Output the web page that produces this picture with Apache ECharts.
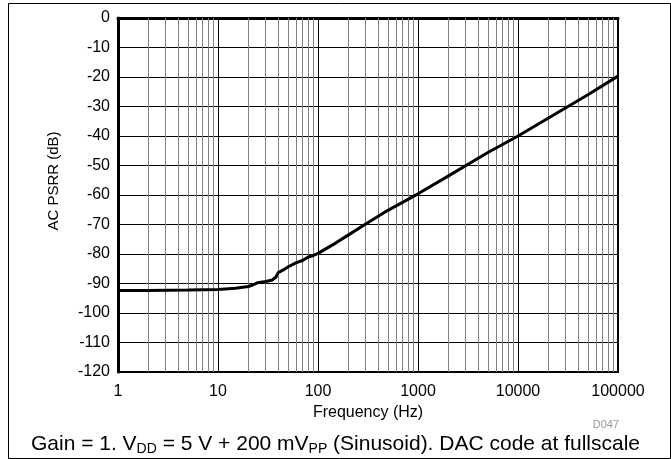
<!DOCTYPE html>
<html>
<head>
<meta charset="utf-8">
<script src="https://cdn.jsdelivr.net/npm/echarts@6/dist/echarts.min.js"></script>
<style>
  html, body { margin: 0; padding: 0; background: #fff; }
  #chart { width: 671px; height: 459px; }
</style>
</head>
<body>
<div id="chart"></div>
<script>
// frequency (Hz) and AC PSRR (dB)
const freq = [1, 2, 5, 10, 15, 20, 22, 25, 30, 35, 38, 40, 45, 50, 60, 70, 80, 90, 100,
  150, 200, 300, 500, 1000, 2000, 5000, 10000, 20000, 50000, 100000]
const psrr = [-92.4, -92.4, -92.2, -92.0, -91.6, -91.0, -90.6, -89.7, -89.3, -88.8, -87.8, -86.3, -85.4, -84.4, -83.0, -82.2, -81.0, -80.5, -79.8,
  -76.3, -73.6, -69.8, -65.2, -59.6, -53.6, -45.6, -40.0, -34.0, -26.0, -19.7]
const yMin = -120, yMax = 0, yStep = 10

// minor vertical gridlines 2..9 per decade
let minor = []
for (let d = 1; d < 100000; d *= 10) {
  for (let k = 2; k <= 9; k++) minor.push(d * k)
}

const font = "Arial, 'Liberation Sans', sans-serif"
const chart = echarts.init(document.getElementById("chart"))

chart.setOption({
  animation: false,
  grid: {
    left: 118, right: 53, top: 18, bottom: 87,
    show: true,
    borderColor: "#000",
    borderWidth: 2
  },
  xAxis: {
    type: "log",
    logBase: 10,
    min: 1,
    max: 100000,
    name: "Frequency (Hz)",
    nameLocation: "middle",
    nameGap: 29,
    nameTextStyle: { fontFamily: font, fontSize: 16, color: "#000" },
    axisLine: { show: true, lineStyle: { color: "#000", width: 3 } },
    axisTick: { show: false },
    axisLabel: {
      fontFamily: font, fontSize: 16, color: "#000", margin: 12,
      formatter: v => String(Math.round(v))
    },
    splitLine: { show: true, lineStyle: { color: "#000", width: 1 } }
  },
  yAxis: {
    type: "value",
    min: yMin,
    max: yMax,
    interval: yStep,
    name: "AC PSRR (dB)",
    nameLocation: "middle",
    nameGap: 57,
    nameTextStyle: { fontFamily: font, fontSize: 15, color: "#000", padding: [0, 0, 0, 28] },
    axisLine: { show: true, lineStyle: { color: "#000", width: 3 } },
    axisTick: { show: false },
    axisLabel: { fontFamily: font, fontSize: 16, color: "#000", margin: 8 },
    splitLine: { show: true, lineStyle: { color: "#000", width: 1 } }
  },
  series: [
    {
      type: "line",
      data: freq.map((f, i) => [f, psrr[i]]),
      symbol: "none",
      smooth: false,
      lineStyle: { color: "#000", width: 3 },
      z: 5,
      markLine: {
        silent: true,
        symbol: "none",
        label: { show: false },
        lineStyle: { color: "#808080", width: 1, type: "solid" },
        data: minor.map(v => ({ xAxis: v }))
      }
    }
  ],
  graphic: [
    {
      type: "rect",
      shape: { x: 8.5, y: 3.5, width: 662, height: 455 },
      style: { fill: "none", stroke: "#000", lineWidth: 1 }
    },
    {
      type: "text",
      right: 52,
      top: 419,
      style: { text: "D047", font: "11px " + font, fill: "#999" }
    },
    {
      type: "text",
      left: "center",
      top: 434,
      style: {
        text: "Gain = 1. V{sub|DD} = 5 V + 200 mV{sub|PP} (Sinusoid). DAC code at fullscale",
        font: "21px " + font,
        fill: "#000",
        rich: {
          sub: { fontSize: 14, fontFamily: font, fill: "#000", padding: [10, 0, 0, 0] }
        }
      }
    }
  ]
})
</script>
</body>
</html>
